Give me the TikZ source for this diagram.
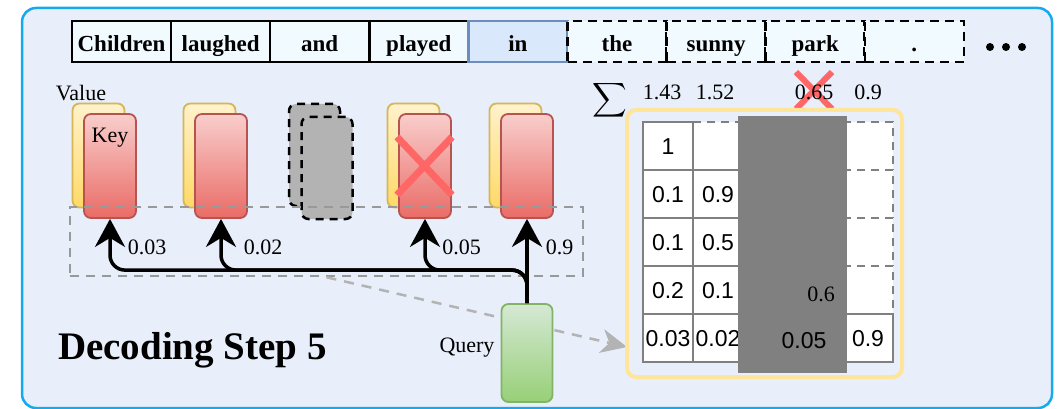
\documentclass[tikz,border=0pt]{standalone}
\usepackage{fontspec}
\usepackage{graphicx}
\setmainfont{Liberation Serif}
\newfontfamily\cellsans{Liberation Sans}
\usetikzlibrary{arrows.meta}

\definecolor{framebg}{RGB}{232,238,250}
\definecolor{frameline}{RGB}{20,170,240}
\definecolor{tokfill}{RGB}{240,250,255}
\definecolor{curfill}{RGB}{218,232,252}
\definecolor{curline}{RGB}{108,142,191}
\definecolor{keytop}{RGB}{248,206,204}
\definecolor{keybot}{RGB}{234,107,102}
\definecolor{keyline}{RGB}{184,84,80}
\definecolor{valtop}{RGB}{255,242,204}
\definecolor{valbot}{RGB}{255,217,102}
\definecolor{valline}{RGB}{214,182,86}
\definecolor{qtop}{RGB}{213,232,212}
\definecolor{qbot}{RGB}{151,208,119}
\definecolor{qline}{RGB}{130,179,102}
\definecolor{evict}{RGB}{255,102,102}
\definecolor{gridline}{RGB}{128,128,128}
\definecolor{hidden}{RGB}{128,128,128}
\definecolor{matline}{RGB}{255,229,153}
\definecolor{dashgray}{RGB}{153,153,153}
\definecolor{ghost}{RGB}{179,179,179}

\tikzset{
  panel/.style={draw=frameline, fill=framebg, line width=2.5pt, rounded corners=14pt, inner sep=0},
  token/.style={draw=black, line width=2.5pt, fill=tokfill, minimum width=99pt, minimum height=41pt,
    inner sep=0, font=\fontsize{23}{27}\selectfont\bfseries, text height=20pt, text depth=0pt},
  current/.style={token, draw=curline, fill=curfill},
  future/.style={token, dash pattern=on 9pt off 6pt},
  keycard/.style={draw=keyline, line width=1.8pt, rounded corners=7pt, top color=keytop,
    bottom color=keybot, minimum width=52pt, minimum height=104pt, inner sep=0},
  valcard/.style={keycard, draw=valline, top color=valtop, bottom color=valbot},
  ghostcard/.style={draw=black, line width=2.5pt, dash pattern=on 8pt off 6pt, fill=ghost,
    rounded corners=7pt, minimum width=51pt, minimum height=102pt, inner sep=0},
  querycard/.style={keycard, draw=qline, top color=qtop, bottom color=qbot,
    minimum width=51pt, minimum height=98pt},
  lab/.style={inner sep=0, font=\fontsize{22}{26}\selectfont, anchor=base},
  cell/.style={draw=gridline, line width=1.8pt, fill=white, minimum width=50pt, minimum height=48pt,
    inner sep=0, font=\cellsans\fontsize{23}{27}\selectfont, text height=16.5pt, text depth=0pt},
  opencell/.style={cell, dash pattern=on 8pt off 6pt},
  attn/.style={line width=3.5pt, rounded corners=15pt, -{Stealth[length=28pt,width=30pt,inset=9pt]}},
  evicted/.style={draw=evict, line width=7pt},
}

\begin{document}
\begin{tikzpicture}[x=1pt,y=-1pt]
\useasboundingbox (0,0) rectangle (1058,409);
\node[panel, minimum width=1030pt, minimum height=400pt] (frame) at (537,208) {};

% token sequence
\foreach \w [count=\i from 0] in {Children,laughed,and,played}
  \node[token] (t\i) at (121.5+99.1*\i,41.5) {\w};
\node[current] (t4) at (517.9,41.5) {in};
\foreach \w [count=\i from 5] in {the,sunny,park,.}
  \node[future] (t\i) at (121.5+99.1*\i,41.5) {\w};
\foreach \dx in {0,16,32} \fill (990+\dx,47) circle (4pt);

% cached key/value pairs
\node[valcard] (v1) at (98.5,155.5) {};
\node[keycard] (k1) at (110,166) {};
\node[valcard] (v2) at (209.5,155.5) {};
\node[keycard] (k2) at (221,166) {};
\node[ghostcard] (v3) at (314.5,155) {};
\node[ghostcard] (k3) at (327,168) {};
\node[valcard] (v4) at (413.5,155.5) {};
\node[keycard] (k4) at (425,166) {};
\node[valcard] (v5) at (515.5,155.5) {};
\node[keycard] (k5) at (527,166) {};
\draw[evicted] (k4.center) ++(-28,-29) -- ++(55,58);
\draw[evicted] (k4.center) ++(-28,29) -- ++(55,-58);

\node[lab] (vlab) at (81,100.5) {Value};
\node[lab] (klab) at (110,143) {Key};

% attention window
\node[draw=dashgray, line width=2.5pt, dash pattern=on 9pt off 7pt, minimum width=513pt,
  minimum height=69pt, inner sep=0] (win) at (326.5,241.5) {};

\coordinate (matin) at (627,347);
\draw[draw=ghost, line width=2.5pt, dash pattern=on 10pt off 8pt,
  -{Stealth[length=26pt,width=24pt,inset=8pt,fill=ghost]}] (win.south) -- (matin);

% query and attention arrows
\node[querycard] (q) at (527,353) {};
\draw[attn] (q.north) -- (k5.south);
\foreach \k in {k1,k2,k4}
  \draw[attn] (q.north) -- ++(0,-33) -| (\k.south);
\node[lab] (qlab) at (467,352.5) {Query};

\node[lab] (w1) at (147,254) {0.03};
\node[lab] (w2) at (263,254) {0.02};
\node[lab] (w4) at (461.5,254) {0.05};
\node[lab] (w5) at (559.5,254) {0.9};

\node[lab, font=\fontsize{39}{44}\selectfont\bfseries] (title) at (192.5,359) {Decoding Step 5};

% accumulated attention
\node[inner sep=0, text height=23pt, text depth=11pt] (sig) at (610,100) {\scalebox{2.4}{$\displaystyle\sum$}};
\draw[evicted, line width=6pt] (796,72) -- (832,109);
\draw[evicted, line width=6pt] (796,109) -- (832,72);
\node[lab] (s1) at (662,100) {1.43};
\node[lab] (s2) at (715,100) {1.52};
\node[lab] (s4) at (814,100) {0.65};
\node[lab] (s5) at (868,100) {0.9};

% attention matrix
\node[draw=matline, line width=4pt, rounded corners=9pt, minimum width=275pt,
  minimum height=267pt, inner sep=0] (mat) at (764.5,243.5) {};
\node[opencell] (c12) at (718,146) {};
\foreach \r in {1,...,4}
  \node[opencell] (c\r5) at (868,146+48*\r-48) {};
\node[cell] (c11) at (668,146) {1};
\node[cell] (c21) at (668,194) {0.1};
\node[cell] (c22) at (718,194) {0.9};
\node[cell] (c31) at (668,242) {0.1};
\node[cell] (c32) at (718,242) {0.5};
\node[cell] (c41) at (668,290) {0.2};
\node[cell] (c42) at (718,290) {0.1};
\node[cell] (c51) at (668,338) {0.03};
\node[cell] (c52) at (718,338) {0.02};
\node[cell] (c55) at (868,338) {0.9};
\node[fill=hidden, inner sep=0, minimum width=109pt, minimum height=257pt] (gone) at (792.5,244.5) {};
\node[lab] (c44) at (821,301.5) {0.6};
\node[lab, font=\cellsans\fontsize{23}{27}\selectfont] (c54) at (804,348) {0.05};
\end{tikzpicture}
\end{document}
